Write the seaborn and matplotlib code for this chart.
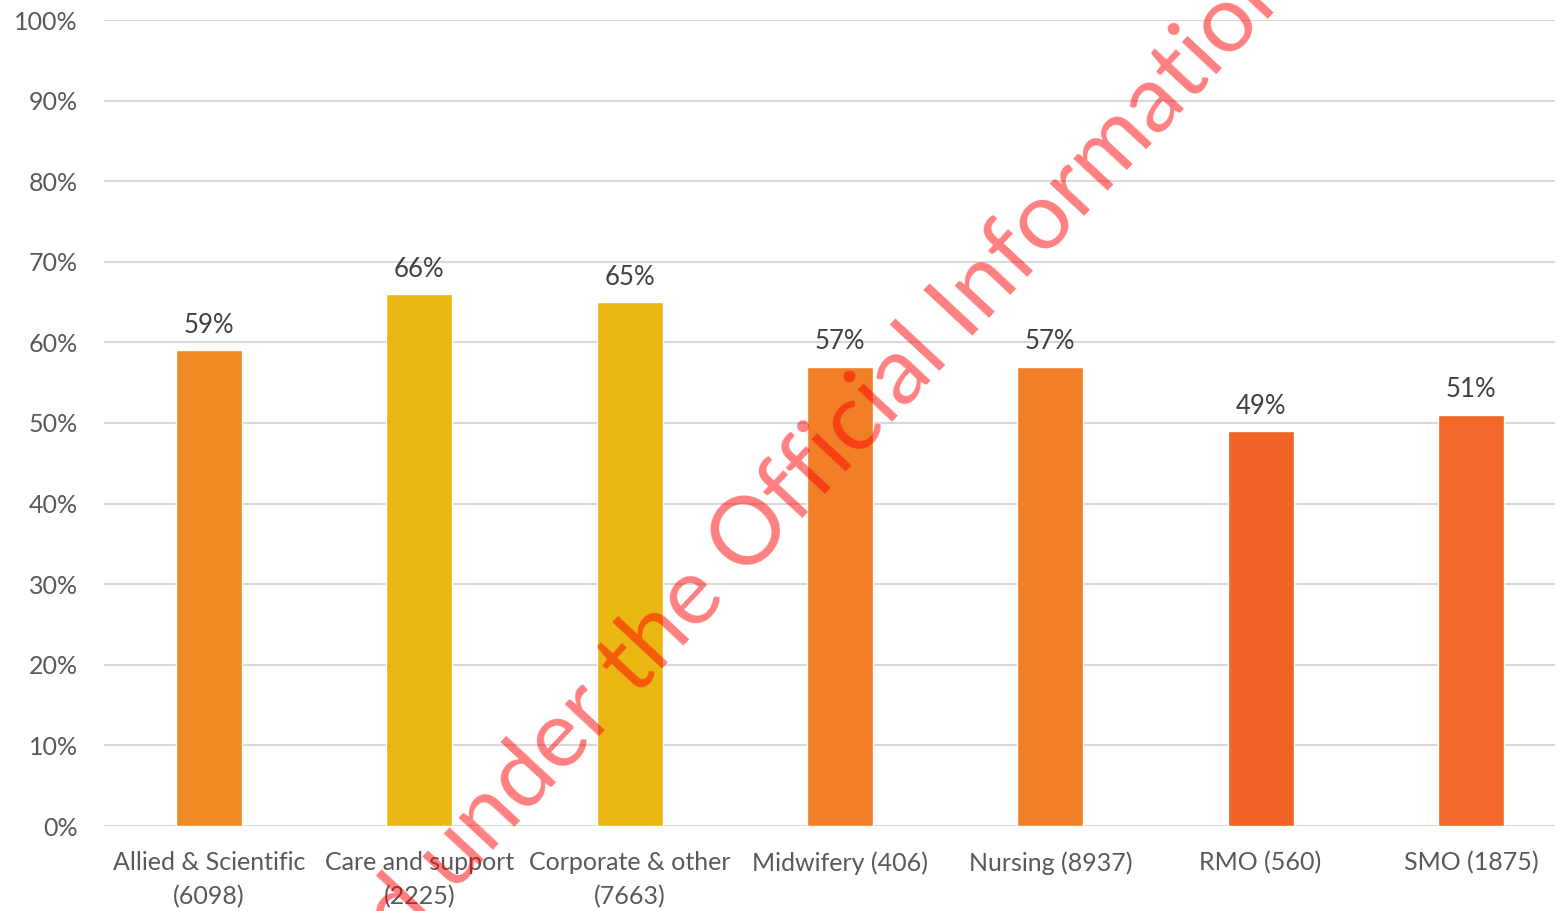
import matplotlib
matplotlib.use("Agg")
import matplotlib.pyplot as plt
import seaborn as sns
import pandas as pd
from matplotlib.ticker import PercentFormatter, MultipleLocator

categories = ["Allied & Scientific\n(6098)", "Care and support\n(2225)", "Corporate & other\n(7663)",
              "Midwifery (406)", "Nursing (8937)", "RMO (560)", "SMO (1875)"]
values = [0.59, 0.66, 0.65, 0.57, 0.57, 0.49, 0.51]
labels = ["59%", "66%", "65%", "57%", "57%", "49%", "51%"]
colors = ["#F08A22", "#EBB713", "#EBB713", "#F07F28", "#F07F28", "#F26326", "#F26829"]
watermark = "Released under the Official Information Act"

sns.set_theme(style="white")
plt.rcParams["font.family"] = ["Lato", "DejaVu Sans"]

df = pd.DataFrame({"cat": categories, "val": values})

W, H = 1555, 911
fig = plt.figure(figsize=(W / 100, H / 100), dpi=100)
ax = fig.add_axes([104 / W, (H - 826) / H, 1472 / W, 806 / H])

sns.barplot(data=df, x="cat", y="val", hue="cat", palette=colors, dodge=False,
            width=0.314, legend=False, ax=ax, saturation=1, zorder=2)

ax.set_ylim(0, 1)
ax.set_xlim(-0.5, len(categories) - 0.5)
ax.yaxis.set_major_locator(MultipleLocator(0.1))
ax.yaxis.set_major_formatter(PercentFormatter(1.0, decimals=0))
ax.grid(axis="y", color="#D9D9D9", linewidth=1.5, zorder=0)
ax.set_axisbelow(True)
for s in ax.spines.values():
    s.set_visible(False)
ax.set_xlabel("")
ax.set_ylabel("")
ax.tick_params(axis="y", length=0, pad=19, labelsize=18, labelcolor="#595959")
ax.tick_params(axis="x", length=0, pad=18, labelsize=18, labelcolor="#595959")
for t in ax.get_xticklabels():
    t.set_linespacing(1.55)

for i, (v, lab) in enumerate(zip(values, labels)):
    ax.annotate(lab, (i, v), xytext=(0, 9), textcoords="offset points",
                ha="center", va="bottom", fontsize=18.5, color="#404040")

fig.text(780 / W, 1 - 505 / H, watermark, rotation=47, rotation_mode="anchor",
         ha="center", va="center", fontsize=68, color="red", alpha=0.5, zorder=10)

fig.savefig("out.png", dpi=100)
